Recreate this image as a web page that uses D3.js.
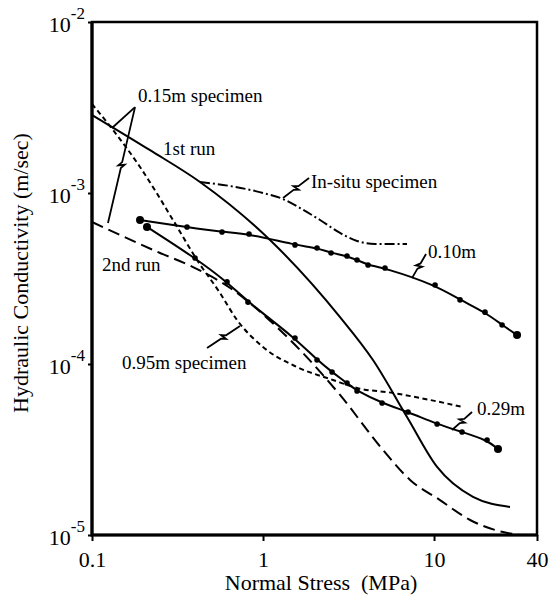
<!DOCTYPE html>
<html>
<head>
<meta charset="utf-8">
<script src="https://cdn.jsdelivr.net/npm/d3@7"></script>
<style>
  html, body { margin: 0; padding: 0; background: #fff; }
  svg { display: block; }
  text { font-family: "Liberation Serif", "Times New Roman", serif; fill: #000; }
</style>
</head>
<body>
<svg id="chart" width="549" height="595"></svg>
<script>
// ---------------- data ----------------
// 0.15m specimen, 1st run (solid)
const stress1st = [0.1, 0.2185, 0.4281, 1.099, 2.82, 4.395, 6.95, 10.42, 16.9, 27.8];
const cond1st   = [2.86e-3, 1.78e-3, 1.16e-3, 5.31e-4, 1.88e-4, 1.055e-4, 4.9e-5, 2.5e-5, 1.67e-5, 1.46e-5];
// 0.15m specimen, 2nd run (long dash)
const stress2nd = [0.1, 0.2499, 0.3896, 0.6674, 1.055, 1.645, 2.82, 5.035, 7.241, 10.84, 16.25, 25.35, 31.85];
const cond2nd   = [6.77e-4, 4.46e-4, 3.69e-4, 2.71e-4, 1.86e-4, 1.208e-4, 6.59e-5, 3.14e-5, 2.10e-5, 1.60e-5, 1.224e-5, 1.04e-5, 1.0e-5];
// 0.95m specimen (short dash)
const stress095 = [0.1, 0.1327, 0.1909, 0.2977, 0.4112, 0.5604, 0.7046, 1.0, 1.581, 2.566, 3.546, 5.754, 9.48, 14.79];
const cond095   = [3.315e-3, 2.336e-3, 1.419e-3, 6.95e-4, 4.06e-4, 2.60e-4, 1.81e-4, 1.257e-4, 9.6e-5, 8.06e-5, 7.24e-5, 6.77e-5, 6.16e-5, 5.60e-5];
// In-situ specimen (dash-dot)
const stressInSitu = [0.4281, 0.6412, 1.0, 1.309, 1.645, 2.155, 2.82, 3.546, 4.518, 6.95];
const condInSitu   = [1.16e-3, 1.099e-3, 1.0e-3, 9.22e-4, 8.17e-4, 6.95e-4, 5.84e-4, 5.24e-4, 5.03e-4, 5.03e-4];
// 0.10m specimen (solid with points)
const stress010 = [0.1909, 0.3594, 0.5757, 0.8282, 1.538, 2.069, 2.499, 3.098, 3.546, 4.112, 5.167, 10.14, 14.19, 19.86, 25.0, 30.58];
const cond010   = [6.95e-4, 6.33e-4, 5.91e-4, 5.76e-4, 4.97e-4, 4.77e-4, 4.46e-4, 4.28e-4, 4.06e-4, 3.79e-4, 3.64e-4, 2.90e-4, 2.37e-4, 2.01e-4, 1.69e-4, 1.478e-4];
// 0.29m specimen (solid with points)
const stress029 = [0.2097, 0.4003, 0.616, 0.8171, 1.538, 2.069, 2.533, 3.098, 3.546, 4.966, 7.046, 10.42, 14.58, 20.42, 23.66];
const cond029   = [6.33e-4, 4.17e-4, 3.02e-4, 2.30e-4, 1.42e-4, 1.055e-4, 8.98e-5, 7.74e-5, 6.95e-5, 5.91e-5, 5.24e-5, 4.46e-5, 4.00e-5, 3.59e-5, 3.18e-5];

// axis ticks
const xTickValues = [0.1, 1, 10, 40];
const xTickLabels = ["0.1", "1", "10", "40"];
const yTickValues = [1e-2, 1e-3, 1e-4, 1e-5];
const yTickExponents = ["-2", "-3", "-4", "-5"];

// annotations
const annoText   = ["0.15m specimen", "1st run", "2nd run", "In-situ specimen", "0.10m", "0.29m", "0.95m specimen"];
const annoStress = [0.1858, 0.2602, 0.1144, 1.909, 9.22, 17.84, 0.1497];
const annoCond   = [3.41e-3, 1.668e-3, 3.50e-4, 1.07e-3, 4.17e-4, 5.03e-5, 9.35e-5];

// leader lines
const leaderFromStress = [0.1785, 0.1785, 0.4705, 7.43, 1.309, 12.74];
const leaderFromCond   = [3.18e-3, 3.18e-3, 1.24e-4, 3.18e-4, 9.35e-4, 4.11e-5];
const leaderToStress   = [0.1309, 0.124, 0.7337, 8.98, 1.858, 16.68];
const leaderToCond     = [2.40e-3, 6.68e-4, 1.668e-4, 4.40e-4, 1.224e-3, 5.24e-5];
const leaderZig        = [false, true, true, true, true, true];

// ---------------- drawing ----------------
const svg = d3.select("#chart");
const mLeft = 92, mRight = 537, mTop = 22, mBottom = 535;

const x = d3.scaleLog().domain([0.1, 40]).range([mLeft, mRight]);
const y = d3.scaleLog().domain([1e-5, 1e-2]).range([mBottom, mTop]);

const zip = (a, b) => a.map((v, i) => [v, b[i]]);

function drawCurve(sx, sy, dash, curve) {
  const line = d3.line()
    .x(d => x(d[0]))
    .y(d => y(d[1]))
    .curve(curve || d3.curveMonotoneX);
  svg.append("path")
    .datum(zip(sx, sy))
    .attr("d", line)
    .attr("fill", "none")
    .attr("stroke", "#000")
    .attr("stroke-width", 2)
    .attr("stroke-dasharray", dash || null)
    .attr("stroke-linecap", "butt");
}

drawCurve(stress1st, cond1st, null);
drawCurve(stress2nd, cond2nd, "12,6");
drawCurve(stress095, cond095, "5,3.5");
drawCurve(stressInSitu, condInSitu, "10,3,2,3");
drawCurve(stress010, cond010, null, d3.curveBasis);
drawCurve(stress029, cond029, null, d3.curveBasis);

function drawDots(sx, sy) {
  svg.append("g").selectAll("circle")
    .data(zip(sx, sy))
    .join("circle")
    .attr("cx", d => x(d[0]))
    .attr("cy", d => y(d[1]))
    .attr("r", (d, i) => (i === 0 || i === sx.length - 1) ? 4 : 2.8)
    .attr("fill", "#000");
}
drawDots(stress010, cond010);
drawDots(stress029, cond029);

// leaders
leaderFromStress.forEach((s, i) => {
  const p0 = [x(s), y(leaderFromCond[i])];
  const p1 = [x(leaderToStress[i]), y(leaderToCond[i])];
  let pts = [p0, p1];
  if (leaderZig[i]) {
    const dx = p1[0] - p0[0], dy = p1[1] - p0[1];
    const L = Math.hypot(dx, dy);
    const t = [dx / L, dy / L], n = [-t[1], t[0]];
    const m = [(p0[0] + p1[0]) / 2, (p0[1] + p1[1]) / 2];
    const P = (a, b) => [m[0] + a * t[0] + b * n[0], m[1] + a * t[1] + b * n[1]];
    pts = [p0, P(-3, 0), P(1, 3), P(-1, -3), P(3, 0), p1];
  }
  svg.append("path")
    .attr("d", d3.line()(pts))
    .attr("fill", "none")
    .attr("stroke", "#000")
    .attr("stroke-width", 1.8)
    .attr("stroke-linejoin", "miter");
});

// annotation labels
svg.append("g").selectAll("text")
  .data(annoText)
  .join("text")
  .attr("x", (d, i) => x(annoStress[i]))
  .attr("y", (d, i) => y(annoCond[i]))
  .attr("font-size", 19)
  .text(d => d);

// frame
svg.append("rect")
  .attr("x", mLeft).attr("y", mTop)
  .attr("width", mRight - mLeft).attr("height", mBottom - mTop)
  .attr("fill", "none").attr("stroke", "#000").attr("stroke-width", 2.5);
svg.append("path")
  .attr("d", d3.line()([[x(0.1), y(1e-2)], [x(0.1), y(1e-5)], [x(40), y(1e-5)]]))
  .attr("fill", "none").attr("stroke", "#000").attr("stroke-width", 3.2);

// x axis ticks + labels
const xAxis = d3.axisBottom(x).tickValues(xTickValues).tickFormat((d, i) => xTickLabels[i]).tickSize(6).tickPadding(10);
const gx = svg.append("g").attr("transform", `translate(0,${mBottom})`).call(xAxis);
gx.select(".domain").remove();
gx.selectAll("line").attr("stroke-width", 2);
gx.selectAll("text").attr("font-size", 22).attr("font-family", "Liberation Serif");

// y axis ticks + labels (10 with superscript exponent)
const yAxis = d3.axisLeft(y).tickValues(yTickValues).tickFormat(() => "").tickSize(4);
const gy = svg.append("g").attr("transform", `translate(${mLeft},0)`).call(yAxis);
gy.select(".domain").remove();
gy.selectAll("line").attr("stroke-width", 2);
yTickValues.forEach((v, i) => {
  const t = svg.append("text")
    .attr("x", mLeft - 7)
    .attr("y", y(v) + 10)
    .attr("text-anchor", "end")
    .attr("font-size", 22);
  t.append("tspan").text("10");
  t.append("tspan").attr("dy", -13).attr("font-size", 17).text(yTickExponents[i]);
});

// axis titles
svg.append("text")
  .attr("x", 321).attr("y", 590)
  .attr("text-anchor", "middle")
  .attr("font-size", 22)
  .style("white-space", "pre")
  .text("Normal Stress  (MPa)");

svg.append("text")
  .attr("transform", "translate(28,273) rotate(-90)")
  .attr("text-anchor", "middle")
  .attr("font-size", 22)
  .text("Hydraulic Conductivity (m/sec)");
</script>
</body>
</html>
